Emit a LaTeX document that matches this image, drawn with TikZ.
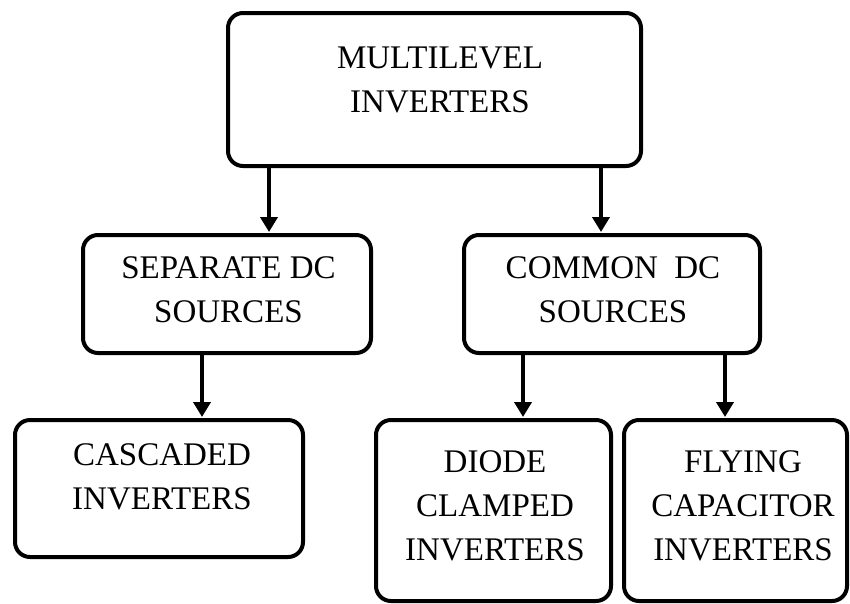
\documentclass[tikz,border=0pt]{standalone}
\usepackage{fontspec}
\setmainfont{Liberation Serif}
\usetikzlibrary{arrows.meta}
\begin{document}
\begin{tikzpicture}[x=1pt,y=1pt,
  box/.style={draw=black, line width=4pt, rounded corners=15pt, fill=white, inner sep=0pt},
  txt/.style={inner sep=0pt, align=center, font=\fontsize{33}{44}\selectfont},
  arr/.style={line width=4pt, -{Triangle[length=15pt,width=17pt]}, shorten >=1pt}]
\useasboundingbox (0,0) rectangle (850,-603);
\fill[white] (0,0) rectangle (850,-603);
% boxes
\node[box, minimum width=413pt, minimum height=153pt] (top) at (434.5,-89.5) {};
\node[box, minimum width=288pt, minimum height=118pt] (sep) at (227,-294) {};
\node[box, minimum width=296pt, minimum height=118pt] (com) at (612,-294) {};
\node[box, minimum width=288pt, minimum height=137pt] (cas) at (159,-488.5) {};
\node[box, minimum width=235pt, minimum height=181pt] (dio) at (493.5,-510.5) {};
\node[box, minimum width=223pt, minimum height=181pt] (fly) at (735.5,-510.5) {};
% texts
\node[txt] (ttop) at (440,-80) {MULTILEVEL\\INVERTERS};
\node[txt] (tsep) at (228.5,-290) {SEPARATE DC\\SOURCES};
\node[txt] (tcom) at (613,-290) {COMMON~~DC\\SOURCES};
\node[txt] (tcas) at (162,-476.5) {CASCADED\\INVERTERS};
\node[txt] (tdio) at (495,-505.5) {DIODE\\CLAMPED\\INVERTERS};
\node[txt] (tfly) at (743,-505.5) {FLYING\\CAPACITOR\\INVERTERS};
% arrow positions
\coordinate (x1) at (269,0);
\coordinate (x2) at (601,0);
\coordinate (x3) at (202,0);
\coordinate (x4) at (523,0);
\coordinate (x5) at (725,0);
\draw[arr] (top.south -| x1) -- (sep.north -| x1);
\draw[arr] (top.south -| x2) -- (com.north -| x2);
\draw[arr] (sep.south -| x3) -- (cas.north -| x3);
\draw[arr] (com.south -| x4) -- (dio.north -| x4);
\draw[arr] (com.south -| x5) -- (fly.north -| x5);
\end{tikzpicture}
\end{document}
